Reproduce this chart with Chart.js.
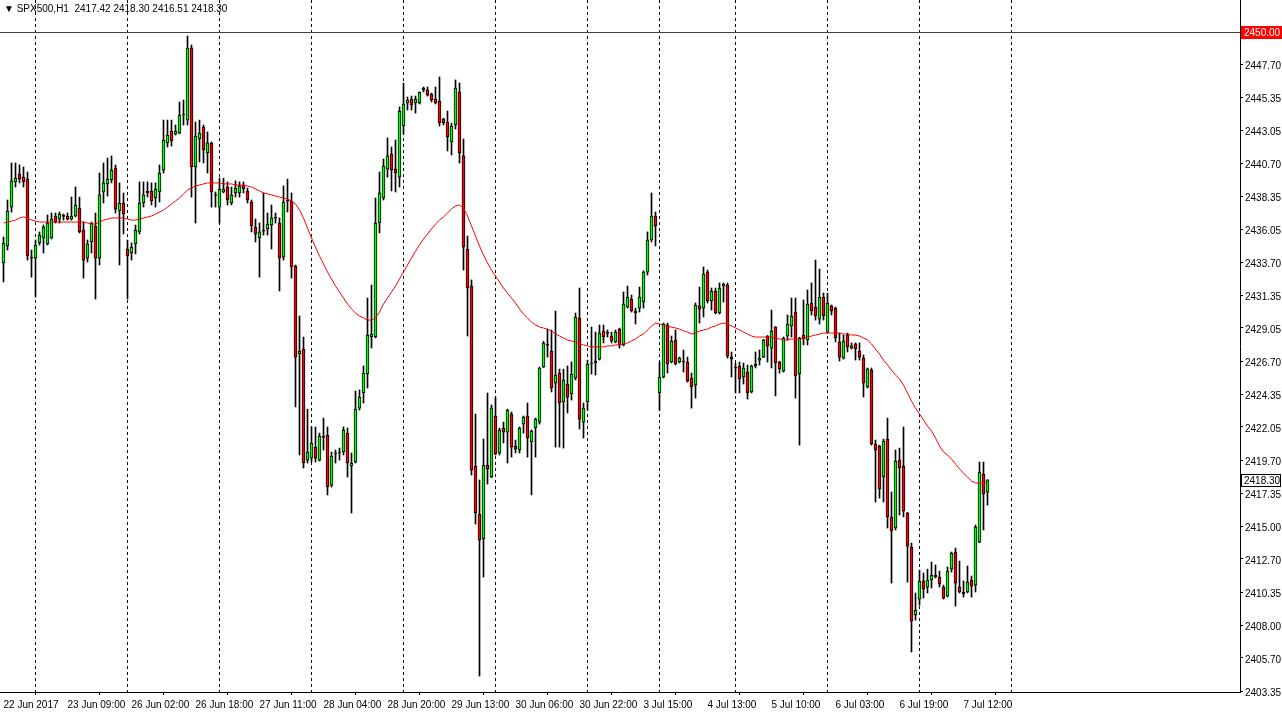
<!DOCTYPE html>
<html><head><meta charset="utf-8">
<script src="https://cdn.jsdelivr.net/npm/chart.js@4.4.1/dist/chart.umd.min.js"></script>
<style>
html,body{margin:0;padding:0;background:#fff;overflow:hidden}
#wrap{position:relative;width:1282px;height:719px}
canvas{display:block}
#hdr{position:absolute;left:4px;top:3px;font:10px "Liberation Sans",Arial,sans-serif;color:#000;white-space:pre}
</style></head><body>
<div id="wrap"><canvas id="c" width="1282" height="719"></canvas><div id="hdr">▼ SPX500,H1  2417.42 2418.30 2416.51 2418.30</div></div>
<script>
const opens=[
2433.65,2434.86,2437.61,2439.39,2439.95,2439.73,2439.59,2434.07,2434.00,2435.07,
2435.42,2435.00,2435.42,2436.98,2436.76,2436.98,2436.98,2436.76,2436.98,2437.54,
2435.99,2434.00,2435.14,2436.27,2434.00,2438.68,2439.25,2439.53,2440.37,2437.33,
2437.90,2434.64,2434.36,2435.00,2435.85,2437.90,2438.75,2438.75,2438.25,2438.68,
2440.23,2442.15,2442.99,2442.78,2442.85,2444.13,2443.77,2448.87,2440.45,2442.43,
2443.28,2441.44,2442.15,2438.47,2437.61,2438.68,2439.03,2437.90,2438.61,2438.61,
2439.17,2438.75,2437.97,2436.20,2435.42,2435.92,2436.06,2436.34,2436.84,2436.48,
2434.07,2438.04,2438.04,2433.44,2427.21,2427.56,2419.70,2419.84,2420.62,2419.70,
2421.33,2421.47,2417.93,2420.13,2420.20,2420.27,2421.61,2419.28,2419.56,2423.38,
2424.45,2425.79,2428.41,2428.41,2436.48,2438.25,2440.30,2441.37,2440.30,2439.73,
2443.35,2444.98,2445.26,2444.98,2444.98,2445.90,2445.90,2445.61,2445.26,2445.12,
2443.84,2443.63,2442.22,2443.42,2445.76,2441.23,2434.64,2432.02,2419.28,2415.88,
2414.11,2419.35,2418.50,2422.82,2420.20,2421.97,2421.68,2422.96,2420.69,2420.41,
2422.25,2422.82,2420.98,2421.97,2422.39,2426.29,2427.85,2427.42,2425.15,2425.86,
2423.81,2425.08,2424.38,2425.51,2429.76,2422.39,2423.81,2426.50,2426.57,2426.85,
2428.84,2428.69,2428.48,2428.06,2428.97,2427.85,2430.53,2431.10,2430.11,2430.46,
2430.89,2433.01,2435.28,2436.98,2424.45,2425.58,2429.26,2426.64,2428.20,2426.64,
2426.71,2426.64,2425.51,2425.01,2430.61,2430.46,2433.01,2430.96,2431.67,2430.11,
2432.02,2432.09,2426.99,2426.22,2426.36,2425.58,2425.93,2424.52,2426.36,2426.78,
2426.99,2428.48,2427.63,2429.12,2426.64,2426.00,2428.48,2429.19,2430.18,2425.79,
2428.55,2428.20,2430.82,2430.53,2429.68,2431.24,2428.76,2430.61,2430.46,2428.06,
2426.92,2428.55,2427.63,2427.92,2427.42,2426.92,2424.87,2426.07,2420.84,2420.69,
2418.50,2421.19,2415.67,2414.89,2419.70,2419.28,2415.95,2413.54,2408.73,2409.86,
2411.14,2410.71,2411.21,2411.42,2411.42,2410.71,2410.07,2411.98,2413.19,2410.71,
2410.36,2410.36,2411.21,2410.85,2413.89,2418.71,2417.42];
const highs=[
2435.49,2438.11,2440.73,2440.73,2440.59,2440.45,2440.09,2434.57,2435.28,2435.85,
2436.34,2437.05,2437.19,2437.19,2437.26,2437.12,2437.19,2438.32,2439.03,2438.32,
2436.55,2435.28,2436.55,2437.19,2440.02,2440.73,2441.08,2441.23,2440.59,2439.32,
2438.61,2435.28,2435.07,2436.34,2439.39,2439.39,2439.39,2439.32,2439.32,2440.59,
2443.77,2443.77,2443.77,2443.42,2445.05,2445.19,2449.72,2449.08,2443.63,2443.77,
2443.42,2442.93,2442.22,2438.68,2439.66,2439.66,2439.39,2439.03,2439.46,2439.39,
2439.39,2438.96,2438.11,2436.76,2436.48,2438.61,2437.19,2437.76,2437.19,2436.84,
2439.10,2439.59,2438.61,2433.51,2429.90,2428.41,2423.31,2422.04,2422.04,2421.61,
2422.67,2422.04,2420.27,2420.41,2420.55,2422.04,2421.97,2420.20,2424.59,2424.66,
2426.36,2431.17,2432.09,2438.25,2440.09,2441.01,2442.50,2441.86,2442.36,2444.70,
2446.39,2445.40,2445.47,2445.47,2445.76,2446.11,2446.11,2445.68,2446.11,2446.82,
2443.91,2444.41,2443.56,2446.61,2446.39,2442.43,2435.56,2432.45,2422.96,2418.29,
2421.19,2424.45,2423.60,2424.16,2421.97,2422.39,2423.30,2423.10,2421.12,2422.04,
2422.82,2423.74,2421.83,2422.67,2426.29,2428.10,2428.97,2428.91,2430.25,2426.14,
2426.14,2426.36,2426.64,2430.11,2431.88,2423.74,2426.78,2429.12,2428.76,2429.26,
2429.26,2428.91,2428.76,2428.91,2429.05,2431.60,2432.02,2431.38,2430.46,2431.95,
2433.10,2435.85,2438.61,2437.26,2426.64,2429.40,2429.40,2428.48,2428.91,2426.99,
2427.49,2426.99,2425.86,2430.82,2431.95,2433.37,2433.15,2431.88,2431.88,2432.24,
2432.24,2432.24,2427.35,2426.57,2426.64,2426.57,2426.43,2426.43,2427.35,2427.49,
2428.25,2428.52,2430.32,2429.15,2426.70,2428.41,2429.97,2431.17,2431.17,2428.40,
2431.03,2431.74,2432.24,2433.86,2433.22,2431.52,2431.52,2430.68,2430.53,2428.69,
2428.55,2428.69,2427.99,2427.99,2427.99,2427.14,2426.22,2426.22,2421.12,2420.76,
2421.19,2422.67,2417.44,2420.41,2420.55,2422.04,2416.00,2413.82,2410.29,2411.91,
2411.70,2411.98,2412.48,2412.27,2411.84,2410.85,2412.13,2413.19,2413.47,2412.55,
2411.14,2412.20,2411.49,2415.10,2419.56,2419.56,2418.30];
const lows=[
2432.31,2434.57,2437.26,2439.03,2439.32,2439.03,2433.86,2432.65,2431.24,2434.92,
2434.36,2434.92,2435.35,2436.48,2436.48,2436.69,2436.69,2436.69,2436.91,2435.78,
2432.59,2433.72,2434.36,2431.10,2433.51,2437.90,2438.39,2439.32,2437.19,2433.51,
2435.71,2431.10,2433.86,2434.29,2435.71,2437.61,2438.32,2437.76,2437.61,2437.97,
2440.02,2441.86,2441.93,2442.71,2442.80,2443.42,2443.42,2438.32,2436.48,2440.80,
2440.73,2440.02,2437.61,2437.61,2436.48,2438.61,2437.76,2437.76,2438.32,2438.32,
2438.61,2437.90,2435.85,2435.14,2432.65,2435.63,2435.63,2434.64,2436.48,2431.67,
2433.86,2437.26,2432.59,2423.46,2420.06,2419.14,2419.49,2419.56,2419.56,2419.63,
2420.41,2417.23,2417.79,2419.49,2419.70,2420.06,2418.50,2415.95,2419.49,2423.24,
2423.74,2424.80,2427.63,2428.35,2435.78,2438.11,2439.73,2438.75,2438.68,2439.03,
2442.78,2444.48,2444.48,2444.27,2444.91,2445.76,2445.47,2445.05,2444.91,2443.35,
2443.42,2441.58,2441.30,2443.14,2440.73,2433.15,2428.48,2418.64,2415.17,2404.41,
2411.42,2418.00,2418.45,2420.06,2420.06,2420.91,2419.49,2419.91,2420.20,2420.20,
2421.61,2419.91,2417.23,2419.91,2422.25,2426.25,2426.99,2424.52,2420.62,2420.62,
2420.55,2423.03,2423.95,2425.37,2421.90,2421.26,2423.24,2425.79,2425.72,2426.78,
2427.99,2428.41,2427.99,2428.00,2427.63,2427.78,2430.46,2430.18,2429.33,2430.18,
2430.46,2432.80,2435.14,2434.86,2423.24,2425.51,2425.86,2426.57,2426.43,2426.57,
2425.93,2425.22,2423.38,2424.09,2429.40,2429.83,2430.82,2430.32,2430.04,2430.04,
2430.89,2426.92,2425.58,2424.45,2424.45,2425.08,2424.02,2424.45,2426.22,2426.43,
2426.95,2426.64,2426.22,2424.24,2425.86,2425.93,2428.20,2428.41,2424.09,2420.76,
2427.85,2427.85,2429.97,2429.61,2429.33,2429.61,2428.69,2429.97,2428.06,2426.71,
2426.85,2427.35,2427.56,2426.78,2426.78,2424.16,2424.80,2420.76,2416.73,2417.01,
2416.73,2414.89,2410.99,2414.75,2415.81,2415.67,2411.06,2406.11,2408.37,2409.43,
2409.93,2410.29,2410.64,2411.35,2410.71,2409.86,2410.00,2411.77,2409.37,2410.29,
2410.00,2410.29,2410.00,2410.36,2413.85,2414.75,2416.51];
const closes=[
2435.07,2437.33,2439.46,2439.66,2439.59,2439.39,2434.15,2434.00,2434.92,2435.63,
2436.20,2436.48,2436.76,2436.55,2437.12,2436.95,2436.76,2436.98,2437.76,2435.85,
2433.86,2435.00,2436.48,2434.00,2438.47,2439.32,2439.59,2440.23,2437.47,2437.90,
2437.12,2434.15,2434.78,2435.99,2437.90,2438.47,2438.61,2438.04,2438.89,2440.02,
2442.36,2442.71,2442.29,2442.99,2444.13,2444.16,2448.87,2440.45,2442.64,2442.85,
2441.65,2442.15,2438.68,2438.43,2438.89,2438.89,2438.11,2438.47,2438.96,2439.10,
2438.89,2438.11,2436.27,2435.71,2435.85,2435.90,2436.41,2436.84,2436.82,2434.00,
2437.97,2438.02,2433.37,2426.99,2427.42,2419.49,2420.27,2420.90,2419.84,2421.40,
2421.31,2417.79,2419.98,2420.15,2420.22,2421.83,2419.49,2419.49,2423.31,2424.16,
2425.86,2428.55,2428.62,2436.48,2438.61,2440.52,2441.23,2440.23,2440.02,2444.41,
2444.91,2445.19,2444.84,2445.26,2445.74,2446.04,2445.54,2445.19,2444.98,2443.56,
2443.56,2442.57,2443.35,2446.04,2441.44,2434.78,2431.88,2418.99,2415.95,2414.04,
2419.35,2419.06,2423.38,2420.13,2421.83,2421.68,2423.24,2420.62,2420.48,2421.97,
2422.75,2421.26,2421.76,2422.60,2426.22,2427.99,2427.83,2424.80,2425.72,2423.74,
2425.37,2424.16,2425.79,2429.83,2422.60,2423.38,2426.50,2426.52,2426.71,2428.69,
2428.41,2428.67,2428.13,2428.76,2427.85,2430.75,2431.24,2430.25,2430.25,2431.24,
2433.01,2435.28,2436.98,2436.27,2425.58,2429.33,2426.50,2428.13,2426.50,2426.92,
2426.64,2425.29,2424.87,2430.68,2430.39,2432.87,2430.96,2431.67,2430.11,2431.88,
2432.16,2427.06,2426.85,2426.20,2425.44,2426.22,2424.45,2426.36,2426.50,2426.92,
2428.20,2427.78,2428.84,2426.57,2426.15,2428.34,2429.33,2429.90,2425.65,2428.34,
2428.27,2430.75,2430.25,2429.90,2431.24,2429.90,2430.82,2430.25,2428.34,2426.99,
2428.13,2427.71,2427.78,2427.56,2426.99,2425.15,2426.15,2420.84,2420.41,2417.65,
2421.05,2415.67,2414.68,2419.63,2419.14,2416.09,2413.61,2408.30,2409.08,2411.14,
2410.57,2411.21,2411.56,2411.56,2410.92,2409.93,2411.84,2413.12,2410.99,2410.36,
2410.22,2411.06,2410.78,2414.96,2418.85,2417.30,2418.30];
const maValues=[
2436.48,2436.55,2436.62,2436.69,2436.84,2436.91,2436.84,2436.69,2436.62,2436.55,
2436.55,2436.55,2436.55,2436.55,2436.55,2436.55,2436.55,2436.55,2436.55,2436.55,
2436.55,2436.48,2436.41,2436.41,2436.55,2436.69,2436.76,2436.84,2436.84,2436.84,
2436.84,2436.76,2436.69,2436.69,2436.76,2436.84,2436.91,2436.98,2437.12,2437.26,
2437.40,2437.61,2437.83,2438.04,2438.25,2438.54,2438.82,2438.96,2439.10,2439.17,
2439.25,2439.32,2439.32,2439.32,2439.32,2439.25,2439.25,2439.25,2439.17,2439.17,
2439.17,2439.10,2439.03,2438.89,2438.75,2438.61,2438.54,2438.47,2438.39,2438.32,
2438.25,2438.18,2438.04,2437.83,2437.40,2436.84,2436.13,2435.42,2434.78,2434.15,
2433.58,2433.01,2432.52,2432.02,2431.60,2431.17,2430.75,2430.39,2430.11,2429.90,
2429.76,2429.61,2429.61,2429.76,2430.18,2430.75,2431.17,2431.60,2432.02,2432.52,
2433.01,2433.51,2434.00,2434.50,2434.92,2435.35,2435.71,2436.06,2436.41,2436.69,
2436.91,2437.19,2437.47,2437.69,2437.76,2437.54,2436.98,2436.27,2435.56,2434.85,
2434.21,2433.65,2433.15,2432.73,2432.31,2431.88,2431.52,2431.17,2430.82,2430.39,
2430.04,2429.76,2429.47,2429.26,2429.12,2429.05,2428.97,2428.84,2428.62,2428.48,
2428.34,2428.20,2428.13,2428.06,2427.92,2427.85,2427.78,2427.71,2427.71,2427.71,
2427.71,2427.78,2427.78,2427.85,2427.85,2427.92,2427.99,2428.13,2428.27,2428.48,
2428.62,2428.91,2429.19,2429.40,2429.33,2429.26,2429.12,2429.12,2429.05,2428.97,
2428.84,2428.76,2428.62,2428.69,2428.84,2428.91,2428.97,2429.12,2429.19,2429.33,
2429.40,2429.33,2429.19,2429.05,2428.91,2428.76,2428.62,2428.48,2428.41,2428.41,
2428.41,2428.41,2428.41,2428.34,2428.27,2428.20,2428.20,2428.27,2428.27,2428.27,
2428.34,2428.41,2428.48,2428.55,2428.62,2428.69,2428.69,2428.69,2428.69,2428.69,
2428.62,2428.62,2428.55,2428.55,2428.48,2428.34,2428.20,2427.92,2427.56,2427.21,
2426.78,2426.43,2426.07,2425.72,2425.44,2425.01,2424.45,2423.88,2423.38,2422.96,
2422.53,2422.11,2421.76,2421.26,2420.69,2420.27,2420.06,2419.77,2419.42,2419.06,
2418.78,2418.50,2418.22,2418.07,2418.07,2418.07,2418.14];
const timeLabels=['22 Jun 2017','23 Jun 09:00','26 Jun 02:00','26 Jun 18:00','27 Jun 11:00','28 Jun 04:00','28 Jun 20:00','29 Jun 13:00','30 Jun 06:00','30 Jun 22:00','3 Jul 15:00','4 Jul 13:00','5 Jul 10:00','6 Jul 03:00','6 Jul 19:00','7 Jul 12:00'];
const labelStep=16;
const daySeparators=[8,31,54,77,100,123,146,164,183,206,229,252];
const priceTicks=[2450.00,2447.70,2445.35,2443.05,2440.70,2438.35,2436.05,2433.70,2431.35,2429.05,2426.70,2424.35,2422.05,2419.70,2417.35,2415.00,2412.70,2410.35,2408.00,2405.70,2403.35];
const levelPrice=2450.00;
const bidPrice=2418.30;

const UP='#00ff00', DOWN='#ff0000';
const FONT={family:'"Liberation Sans", Arial, sans-serif', size:10};
const bodies=opens.map((o,i)=>({x:i,y:[o,closes[i]]}));
const wicks=lows.map((l,i)=>({x:i,y:[l,highs[i]]}));
const maPts=maValues.map((v,i)=>({x:i,y:v}));
const bodyColors=opens.map((o,i)=>closes[i]>=o?UP:DOWN);

const overlay={
  id:'overlay',
  beforeDatasetsDraw(chart){
    const {ctx,chartArea:a,scales:{x,y}}=chart;
    ctx.save();
    ctx.beginPath();ctx.rect(a.left,a.top,a.right-a.left,a.bottom-a.top);ctx.clip();
    ctx.strokeStyle='#000';ctx.lineWidth=1;ctx.setLineDash([3,3]);
    daySeparators.forEach(d=>{
      const px=Math.round(x.getPixelForValue(d)-0.5)+0.5;
      ctx.beginPath();ctx.moveTo(px,a.top);ctx.lineTo(px,a.bottom);ctx.stroke();
    });
    ctx.setLineDash([]);
    const ly=Math.round(y.getPixelForValue(levelPrice)-0.5)+0.5;
    ctx.strokeStyle='#404040';
    ctx.beginPath();ctx.moveTo(a.left,ly);ctx.lineTo(a.right,ly);ctx.stroke();
    ctx.restore();
  },
  afterDraw(chart){
    const {ctx,chartArea:a,scales:{y}}=chart;
    ctx.save();
    ctx.font='10px "Liberation Sans", Arial, sans-serif';
    ctx.textBaseline='middle';ctx.textAlign='left';
    const ly=Math.round(y.getPixelForValue(levelPrice));
    ctx.fillStyle='#ff0000';ctx.fillRect(a.right+1,ly-6,41,13);
    ctx.fillStyle='#fff';ctx.fillText(levelPrice.toFixed(2),a.right+4,ly+1);
    const by=Math.round(y.getPixelForValue(bidPrice));
    ctx.fillStyle='#fff';ctx.fillRect(a.right+1,by-6,41,13);
    ctx.strokeStyle='#000';ctx.strokeRect(a.right+1.5,by-5.5,39,12);
    ctx.fillStyle='#000';ctx.fillText(bidPrice.toFixed(2),a.right+4,by+1);
    ctx.restore();
  }
};

function noPad(s){s.paddingTop=0;s.paddingBottom=0;s.paddingLeft=0;s.paddingRight=0;}

new Chart(document.getElementById('c'),{
  type:'bar',
  data:{datasets:[
    {type:'line',data:maPts,borderColor:'#ff0000',borderWidth:1,pointRadius:0,tension:0,order:0},
    {type:'bar',data:bodies,backgroundColor:bodyColors,borderColor:'#000',borderWidth:1,borderSkipped:false,barThickness:3,minBarLength:1,grouped:false,order:1},
    {type:'bar',data:wicks,backgroundColor:'#000',borderWidth:0,barThickness:1,grouped:false,order:2}
  ]},
  options:{
    responsive:false,animation:false,devicePixelRatio:1,
    layout:{padding:0},
    plugins:{legend:{display:false},tooltip:{enabled:false},title:{display:false}},
    scales:{
      x:{type:'linear',min:-0.875,max:309.125,offset:false,position:'bottom',
        grid:{display:true,drawOnChartArea:false,drawTicks:true,tickLength:3,color:'#000'},
        border:{display:true,color:'#000'},
        afterBuildTicks:s=>{s.ticks=timeLabels.map((t,k)=>({value:k*labelStep}));},
        afterFit:s=>{s.height=27;noPad(s);},
        ticks:{autoSkip:false,maxRotation:0,align:'start',padding:4,color:'#000',font:FONT,
          callback:(v,i)=>timeLabels[i]}
      },
      y:{type:'linear',position:'right',min:2403.28,max:2452.27,
        grid:{display:true,drawOnChartArea:false,drawTicks:true,tickLength:3,color:'#000'},
        border:{display:true,color:'#000'},
        afterBuildTicks:s=>{s.ticks=priceTicks.map(v=>({value:v}));},
        afterFit:s=>{s.width=42;noPad(s);},
        ticks:{padding:2,labelOffset:2,color:'#000',font:FONT,callback:v=>Number(v).toFixed(2)}
      }
    }
  },
  plugins:[overlay]
});
</script>
</body></html>
